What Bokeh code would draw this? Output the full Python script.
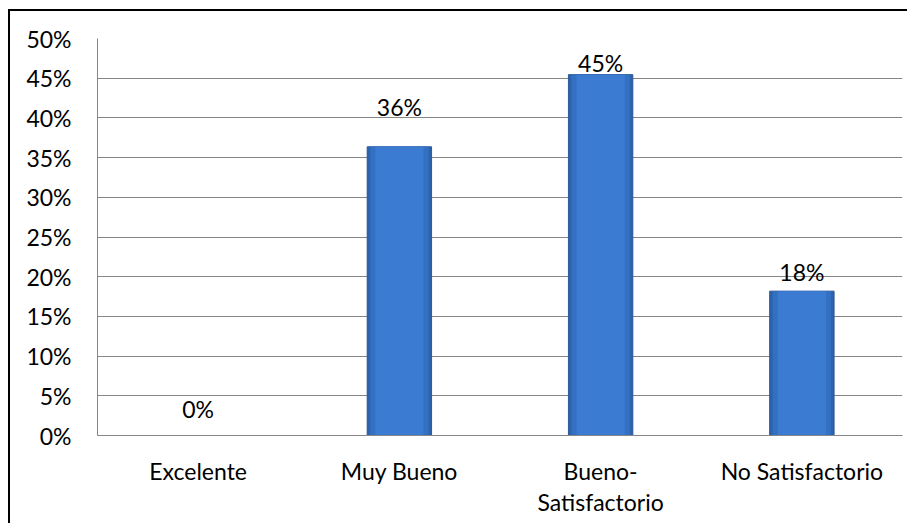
from bokeh.plotting import figure
from bokeh.models import (ColumnDataSource, FixedTicker, PrintfTickFormatter, LabelSet,
                          CategoricalAxis, CustomJSTickFormatter)
from bokeh.core.properties import value
from bokeh.embed import file_html
from bokeh.resources import INLINE

categories = ["Excelente", "Muy Bueno", "Bueno-Satisfactorio", "No Satisfactorio"]
category_line1 = ["Excelente", "Muy Bueno", "Bueno-", "No Satisfactorio"]
category_line2 = ["", "", "Satisfactorio", ""]
values = [0.0, 36.36, 45.45, 18.18]
labels = ["0%", "36%", "45%", "18%"]
y_ticks = [0, 5, 10, 15, 20, 25, 30, 35, 40, 45, 50]

# label nudges (pixels) to mimic the original label placement
label_offsets = [18, 31, 3, 10]

FONT = "Lato"
FS = "23px"

src = ColumnDataSource(dict(cat=categories, val=values, lab=labels, off=label_offsets))

p = figure(x_range=categories, y_range=(0, 50), width=899, height=514,
           output_backend="svg", toolbar_location=None,
           min_border_left=87, min_border_right=7, min_border_top=27, min_border_bottom=90,
           styles={"border-top": "2px solid black", "border-left": "2px solid black",
                   "margin-left": "8px", "margin-top": "9px"})

p.outline_line_color = None
p.background_fill_color = "white"
p.border_fill_color = "white"

# bars (layers for a mild edge shading)
p.vbar(x="cat", top="val", width=0.32, source=src, fill_color="#2D62AC", line_color="#29589A", line_width=1)
p.vbar(x="cat", top="val", width=0.29, source=src, fill_color="#3470C2", line_color=None)
p.vbar(x="cat", top="val", width=0.24, source=src, fill_color="#3B7BD2", line_color=None)

lbl = LabelSet(x="cat", y="val", text="lab", source=src, y_offset="off",
               text_align="center", text_baseline="alphabetic",
               text_font=value(FONT), text_font_size=value(FS), text_color=value("black"))
p.add_layout(lbl)

p.xgrid.grid_line_color = None
p.ygrid.grid_line_color = "#868686"
p.ygrid.grid_line_width = 1
p.yaxis.ticker = FixedTicker(ticks=y_ticks)
p.yaxis.formatter = PrintfTickFormatter(format="%d%%")

JS = """
const i = cats.indexOf(tick);
return i >= 0 ? lines[i] : tick;
"""

# second category axis carrying the wrapped second line of labels
x2 = CategoricalAxis()
p.add_layout(x2, "below")

for ax in (p.xaxis[0], p.yaxis[0], x2):
    ax.axis_line_color = "#868686"
    ax.major_tick_line_color = None
    ax.minor_tick_line_color = None
    ax.major_tick_out = 0
    ax.major_tick_in = 0
    ax.major_label_text_font = FONT
    ax.major_label_text_font_size = FS
    ax.major_label_text_color = "black"

p.yaxis.major_label_standoff = 26
p.xaxis[0].major_label_standoff = 21
p.xaxis[0].formatter = CustomJSTickFormatter(args=dict(cats=categories, lines=category_line1), code=JS)
x2.axis_line_color = None
x2.major_label_standoff = 0
x2.formatter = CustomJSTickFormatter(args=dict(cats=categories, lines=category_line2), code=JS)
p.x_range.range_padding = 0

open("out.html", "w").write(file_html(p, INLINE))
